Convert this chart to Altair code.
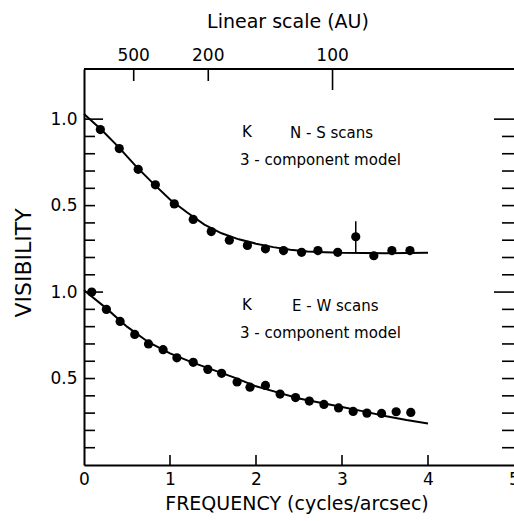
import altair as alt
import pandas as pd

# ---- N-S scans (upper panel) ----
ns_freq = [0.19, 0.41, 0.63, 0.83, 1.05, 1.27, 1.48, 1.69, 1.90, 2.11,
           2.32, 2.53, 2.72, 2.95, 3.16, 3.37, 3.58, 3.79]
ns_vis = [0.94, 0.83, 0.71, 0.62, 0.51, 0.42, 0.35, 0.30, 0.27, 0.25,
          0.24, 0.23, 0.24, 0.23, 0.32, 0.21, 0.24, 0.24]
ns_err_freq = [3.16]
ns_err_lo = [0.23]
ns_err_hi = [0.41]
ns_model_freq = [0.0, 0.2, 0.4, 0.6, 0.8, 1.0, 1.2, 1.4, 1.6, 1.8, 2.0,
                 2.2, 2.4, 2.6, 2.8, 3.0, 3.5, 4.0]
ns_model_vis = [1.03, 0.94, 0.84, 0.73, 0.63, 0.535, 0.46, 0.39, 0.34, 0.305,
                0.28, 0.26, 0.245, 0.235, 0.23, 0.227, 0.225, 0.227]

# ---- E-W scans (lower panel) ----
ew_freq = [0.09, 0.26, 0.42, 0.59, 0.75, 0.92, 1.08, 1.27, 1.44, 1.60, 1.78,
           1.93, 2.11, 2.28, 2.46, 2.62, 2.79, 2.96, 3.13, 3.29, 3.46, 3.63, 3.80]
ew_vis = [1.00, 0.90, 0.83, 0.755, 0.70, 0.667, 0.62, 0.594, 0.553, 0.53, 0.48,
          0.45, 0.46, 0.41, 0.39, 0.37, 0.35, 0.33, 0.31, 0.30, 0.298, 0.308, 0.304]
ew_model_freq = [0.0, 0.25, 0.5, 0.75, 1.0, 1.25, 1.5, 1.75, 2.0, 2.25, 2.5,
                 2.75, 3.0, 3.25, 3.5, 3.75, 4.0]
ew_model_vis = [1.01, 0.91, 0.80, 0.71, 0.645, 0.595, 0.55, 0.505, 0.455, 0.42,
                0.385, 0.36, 0.335, 0.31, 0.283, 0.26, 0.24]

# ---- axes ----
freq_ticks = [0, 1, 2, 3, 4, 5]
inner_freq_ticks = [1, 2, 3, 4]
au_labels = [500, 200, 100]
au_major = [100]
au_const = 289.0          # frequency (cycles/arcsec) x linear scale (AU)
vis_minor = [0.1, 0.2, 0.3, 0.4, 0.5, 0.6, 0.7, 0.8, 0.9]
vis_label_values = [0.5, 1.0]

# The upper panel sits one unit above the lower one on a shared axis
NS_OFFSET = 1.0
W, H = 430, 396
FONT = "DejaVu Sans"

points = pd.concat([
    pd.DataFrame({"f": ns_freq, "y": [v + NS_OFFSET for v in ns_vis], "panel": "NS"}),
    pd.DataFrame({"f": ew_freq, "y": ew_vis, "panel": "EW"}),
])
models = pd.concat([
    pd.DataFrame({"f": ns_model_freq, "y": [v + NS_OFFSET for v in ns_model_vis], "panel": "NS"}),
    pd.DataFrame({"f": ew_model_freq, "y": ew_model_vis, "panel": "EW"}),
])
errs = pd.DataFrame({"f": ns_err_freq,
                     "y": [v + NS_OFFSET for v in ns_err_lo],
                     "y2": [v + NS_OFFSET for v in ns_err_hi]})

minor_y = sorted(vis_minor + [v + NS_OFFSET for v in vis_minor])
major_y = [1.0, 1.0 + NS_OFFSET]
label_y = sorted(vis_label_values + [v + NS_OFFSET for v in vis_label_values])

xs = alt.Scale(domain=[0, 5], nice=False, zero=False)
ys = alt.Scale(domain=[0, 2.29], nice=False, zero=False)

x_axis = alt.Axis(values=freq_ticks, ticks=False, tickSize=0, grid=False,
                  labelPadding=6, labelFontSize=17, labelFont=FONT,
                  labelColor="black", domainColor="black", domainWidth=2,
                  title=None, labelFlush=False)
y_axis = alt.Axis(values=label_y, ticks=False, tickSize=0, grid=False,
                  labelPadding=7, labelFontSize=17, labelFont=FONT,
                  labelColor="black", domainColor="black", domainWidth=2,
                  title=None,
                  labelExpr="datum.value > 1.01 ? format(datum.value - 1, '.1f') : format(datum.value, '.1f')")

X = lambda: alt.X("f:Q", scale=xs, axis=x_axis)
Y = lambda: alt.Y("y:Q", scale=ys, axis=y_axis)

dots = alt.Chart(points).mark_circle(size=85, color="black", opacity=1).encode(
    x=X(), y=Y())

lines = alt.Chart(models).mark_line(color="black", strokeWidth=2).encode(
    x=X(), y=Y(), detail="panel:N")

errbar = alt.Chart(errs).mark_rule(color="black", strokeWidth=1.5).encode(
    x=X(), y=Y(), y2="y2:Q")


def vticks(values, x0, x1, width=1.6):
    df = pd.DataFrame({"y": values})
    return alt.Chart(df).mark_rule(color="black", strokeWidth=width).encode(
        y=Y(), x=alt.value(x0), x2=alt.value(x1))


def hticks(values, y0, y1, width=1.6):
    df = pd.DataFrame({"f": values})
    return alt.Chart(df).mark_rule(color="black", strokeWidth=width).encode(
        x=X(), y=alt.value(y0), y2=alt.value(y1))


tick_layers = [
    vticks(minor_y, 0, 11),
    vticks(major_y, 0, 19),
    vticks(minor_y, W, W - 12),
    vticks(major_y, W, W - 20),
    hticks(inner_freq_ticks, H, H - 10),
    hticks([au_const / a for a in au_labels if a not in au_major], 0, 12),
    hticks([au_const / a for a in au_major], 0, 21),
]

top_frame = alt.Chart(pd.DataFrame({"f": [0]})).mark_rule(
    color="black", strokeWidth=2).encode(
    x=alt.value(0), x2=alt.value(W), y=alt.value(0))

au_df = pd.DataFrame({"f": [au_const / a for a in au_labels],
                      "t": [str(a) for a in au_labels]})
au_text = alt.Chart(au_df).mark_text(
    font=FONT, fontSize=17, baseline="middle", align="center", color="black"
).encode(x=X(), y=alt.value(-13), text="t:N")


def label(text, px, py, size=15, align="left", angle=0):
    kw = dict(font=FONT, fontSize=size, align=align, baseline="middle", color="black")
    if angle:
        kw["angle"] = angle
    return alt.Chart(pd.DataFrame({"t": [text]})).mark_text(**kw).encode(
        x=alt.value(px), y=alt.value(py), text="t:N")


texts = [
    label("Linear scale (AU)", 204, -47, size=19, align="center"),
    label("FREQUENCY (cycles/arcsec)", 213, 435, size=19, align="center"),
    label("VISIBILITY", -60, 194, size=22, align="center", angle=270),
    label("K", 158, 63),
    label("N - S scans", 206, 64),
    label("3 - component model", 156, 91),
    label("K", 158, 236),
    label("E - W scans", 208, 237),
    label("3 - component model", 156, 264),
]

chart = alt.layer(
    dots, lines, errbar, top_frame, au_text, *tick_layers, *texts
).properties(
    width=W, height=H,
    autosize=alt.AutoSizeParams(type="none"),
    padding={"left": 84, "top": 69, "right": 0, "bottom": 56},
    background="white",
).configure_view(stroke=None)

chart.save("out.html", embed_options={"renderer": "svg", "actions": False})
